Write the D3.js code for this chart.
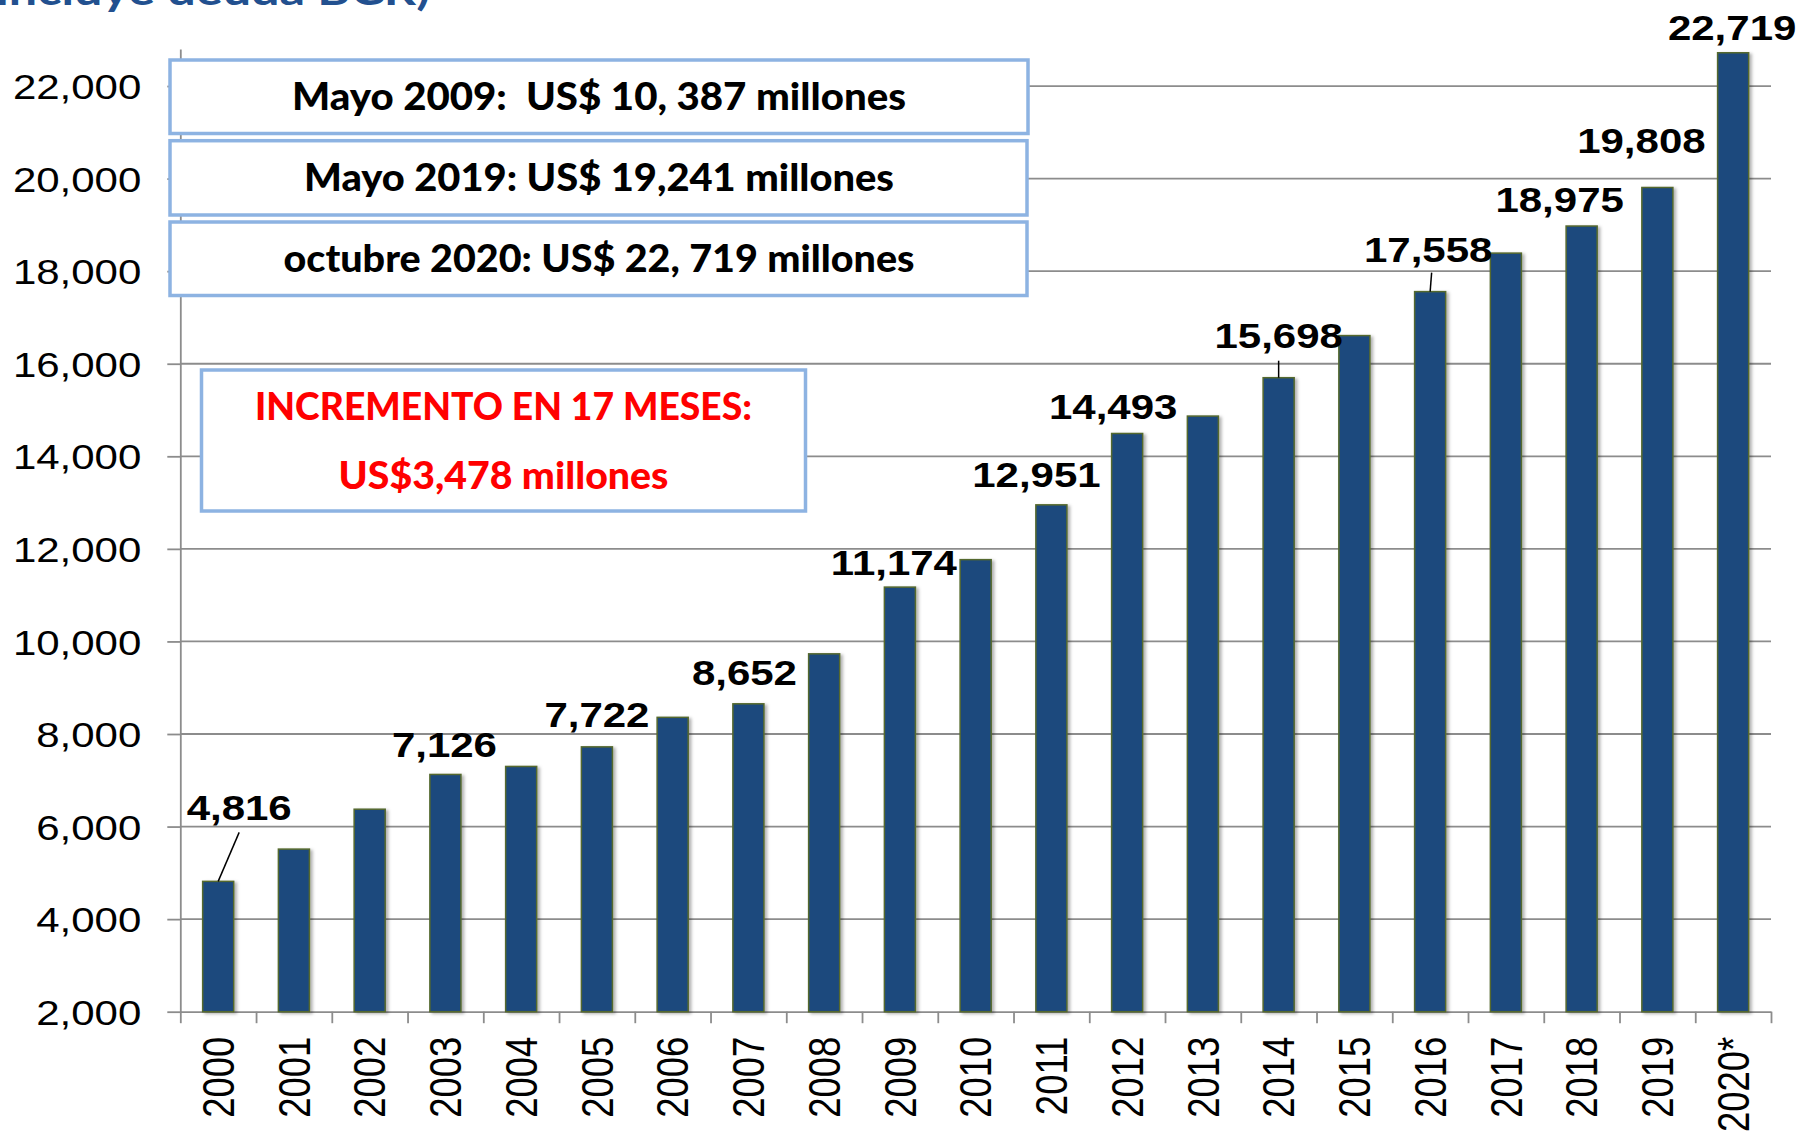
<!DOCTYPE html>
<html>
<head>
<meta charset="utf-8">
<script src="https://cdn.jsdelivr.net/npm/d3@7"></script>
<style>
  html, body { margin: 0; padding: 0; background: #fff; overflow: hidden; }
  svg { display: block; }
</style>
</head>
<body>
<div id="chart"></div>
<script>
// deuda por año (millones US$)
const years = ["2000", "2001", "2002", "2003", "2004", "2005", "2006", "2007", "2008", "2009", "2010",
  "2011", "2012", "2013", "2014", "2015", "2016", "2017", "2018", "2019", "2020*"];
const debt = [4816, 5513, 6375, 7126, 7299, 7722, 8360, 8652, 9732, 11174, 11767,
  12951, 14493, 14869, 15698, 16608, 17558, 18390, 18975, 19808, 22719];
const shownLabels = ["4,816", "", "", "7,126", "", "7,722", "", "8,652", "", "11,174", "",
  "12,951", "14,493", "", "15,698", "", "17,558", "", "18,975", "19,808", "22,719"];
const yTicks = [2000, 4000, 6000, 8000, 10000, 12000, 14000, 16000, 18000, 20000, 22000];
const yMin = 2000, yMax = 22800;

const titleText = "incluye deuda BCR)";
const boxLines = ["Mayo 2009:  US$ 10, 387 millones", "Mayo 2019: US$ 19,241 millones",
  "octubre 2020: US$ 22, 719 millones"];
const increaseLines = ["INCREMENTO EN 17 MESES:", "US$3,478 millones"];

// where the data labels sit: [dx from bar centre, baseline height above bar top]
const labelShift = {0: [21, 61], 3: [-1, 17], 5: [0, 20], 7: [-4, 19], 9: [-6, 12], 11: [-15, 18],
  12: [-14, 14], 14: [0, 30], 16: [-2, 30], 18: [-22, 14], 19: [-16, 34], 20: [-1, 13]};
const leaders = [{i: 0, dx: 21, dy: 49}, {i: 14, dx: 0, dy: 17}, {i: 16, dx: 1.5, dy: 19}];

const W = 1802, H = 1131;
const plotLeft = 180.3, plotRight = 1771, plotBottom = 1011.7, plotTop = 49;
const stretch = 1.2; // the source picture is stretched sideways
const arial = "'Liberation Sans', Arial, sans-serif";
const gridColor = "#8c8c8c";

const svg = d3.select("#chart").append("svg")
  .attr("width", W).attr("height", H);

const defs = svg.append("defs");
const sh = defs.append("filter").attr("id", "shadow")
  .attr("x", "-30%").attr("y", "-5%").attr("width", "170%").attr("height", "110%");
sh.append("feDropShadow").attr("dx", 2.5).attr("dy", 1.5).attr("stdDeviation", 1.8)
  .attr("flood-color", "#000").attr("flood-opacity", 0.3);

const x = d3.scaleBand().domain(years).range([plotLeft, plotRight]).padding(0);
const xEdge = d3.scaleLinear().domain([0, years.length]).range([plotLeft, plotRight]);
const y = d3.scaleLinear().domain([yMin, yMax]).range([plotBottom, plotTop]);

// title (cut off at the top in the source)
svg.append("text")
  .attr("x", -4).attr("y", 5)
  .attr("textLength", 434).attr("lengthAdjust", "spacingAndGlyphs")
  .attr("font-family", "Lato, 'Open Sans', sans-serif")
  .attr("font-weight", 700).attr("font-size", 40)
  .attr("fill", "#22508f")
  .text(titleText);

// gridlines
svg.append("g").selectAll("line")
  .data(yTicks.slice(1))
  .enter().append("line")
  .attr("x1", plotLeft).attr("x2", plotRight)
  .attr("y1", d => y(d)).attr("y2", d => y(d))
  .attr("stroke", gridColor).attr("stroke-width", 1.8);

// y axis
const yAxis = svg.append("g")
  .attr("transform", "translate(" + plotLeft + ",0)")
  .call(d3.axisLeft(y).tickValues(yTicks).tickSize(13).tickSizeOuter(0).tickFormat(d3.format(",")));
yAxis.select(".domain").attr("stroke", gridColor).attr("stroke-width", 1.8);
yAxis.selectAll(".tick line").attr("stroke", gridColor).attr("stroke-width", 1.8);
yAxis.selectAll(".tick text")
  .attr("x", 0).attr("dy", "0.36em")
  .attr("transform", "translate(-39,0) scale(" + stretch + ",1)")
  .attr("font-family", arial).attr("font-size", 35).attr("fill", "#000");

// x axis: tick marks between categories
const xTicks = svg.append("g")
  .attr("transform", "translate(0," + plotBottom + ")")
  .call(d3.axisBottom(xEdge).tickValues(d3.range(years.length + 1)).tickSize(11.5).tickSizeOuter(0).tickFormat(""));
xTicks.select(".domain").attr("stroke", gridColor).attr("stroke-width", 1.8);
xTicks.selectAll(".tick line").attr("stroke", gridColor).attr("stroke-width", 1.8);

// x axis: year labels
const xAxis = svg.append("g")
  .attr("transform", "translate(0," + plotBottom + ")")
  .call(d3.axisBottom(x).tickSize(0).tickPadding(0));
xAxis.select(".domain").remove();
xAxis.selectAll(".tick text")
  .attr("x", 0).attr("y", 0).attr("dy", "0.36em")
  .attr("text-anchor", "end")
  .attr("transform", "translate(0,25) scale(" + stretch + ",1) rotate(-90)")
  .attr("font-family", arial).attr("font-size", 36.5).attr("fill", "#000");

// bars
const barW = x.bandwidth() * 0.41;
svg.append("g").selectAll("rect")
  .data(debt)
  .enter().append("rect")
  .attr("x", (d, i) => x(years[i]) + (x.bandwidth() - barW) / 2)
  .attr("y", d => y(d))
  .attr("width", barW)
  .attr("height", d => plotBottom - y(d))
  .attr("fill", "#1f497d")
  .attr("stroke", "#55692e").attr("stroke-width", 1.5)
  .attr("filter", "url(#shadow)");

// leader lines
svg.append("g").selectAll("line")
  .data(leaders)
  .enter().append("line")
  .attr("x1", d => x(years[d.i]) + x.bandwidth() / 2 + d.dx)
  .attr("y1", d => y(debt[d.i]) - d.dy)
  .attr("x2", d => x(years[d.i]) + x.bandwidth() / 2)
  .attr("y2", d => y(debt[d.i]))
  .attr("stroke", "#000").attr("stroke-width", 1.5);

// data labels
svg.append("g").selectAll("text")
  .data(debt.map((d, i) => i).filter(i => shownLabels[i] !== ""))
  .enter().append("text")
  .attr("transform", i => "translate(" + (x(years[i]) + x.bandwidth() / 2 + labelShift[i][0]) + "," +
    (y(debt[i]) - labelShift[i][1]) + ") scale(" + stretch + ",1)")
  .attr("text-anchor", "middle")
  .attr("font-family", arial).attr("font-weight", "bold").attr("font-size", 35)
  .attr("fill", "#000")
  .text(i => shownLabels[i]);

// info boxes
const boxFont = "Lato, 'Open Sans', sans-serif";
const boxes = [
  {x: 170, y: 60, w: 858, h: 73.5, text: boxLines[0], len: 614},
  {x: 170, y: 140.7, w: 857, h: 74.3, text: boxLines[1], len: 590},
  {x: 170, y: 222, w: 857, h: 73.5, text: boxLines[2], len: 631}
];
const bg = svg.append("g");
boxes.forEach(b => {
  bg.append("rect")
    .attr("x", b.x).attr("y", b.y).attr("width", b.w).attr("height", b.h)
    .attr("fill", "#fff").attr("stroke", "#8db3e2").attr("stroke-width", 3.5);
  bg.append("text")
    .attr("x", 599).attr("y", b.y + 50)
    .attr("text-anchor", "middle")
    .attr("textLength", b.len).attr("lengthAdjust", "spacingAndGlyphs")
    .style("white-space", "pre")
    .attr("font-family", boxFont).attr("font-weight", 900).attr("font-size", 37)
    .attr("fill", "#000")
    .text(b.text);
});

// increase box
bg.append("rect")
  .attr("x", 201.5).attr("y", 370).attr("width", 604).attr("height", 141)
  .attr("fill", "#fff").attr("stroke", "#8db3e2").attr("stroke-width", 3.5);
[{t: increaseLines[0], yb: 419.5, len: 497}, {t: increaseLines[1], yb: 488.5, len: 330}].forEach(l => {
  bg.append("text")
    .attr("x", 503.5).attr("y", l.yb)
    .attr("text-anchor", "middle")
    .attr("textLength", l.len).attr("lengthAdjust", "spacingAndGlyphs")
    .attr("font-family", boxFont).attr("font-weight", 900).attr("font-size", 38.5)
    .attr("fill", "#ff0000")
    .text(l.t);
});
</script>
</body>
</html>
